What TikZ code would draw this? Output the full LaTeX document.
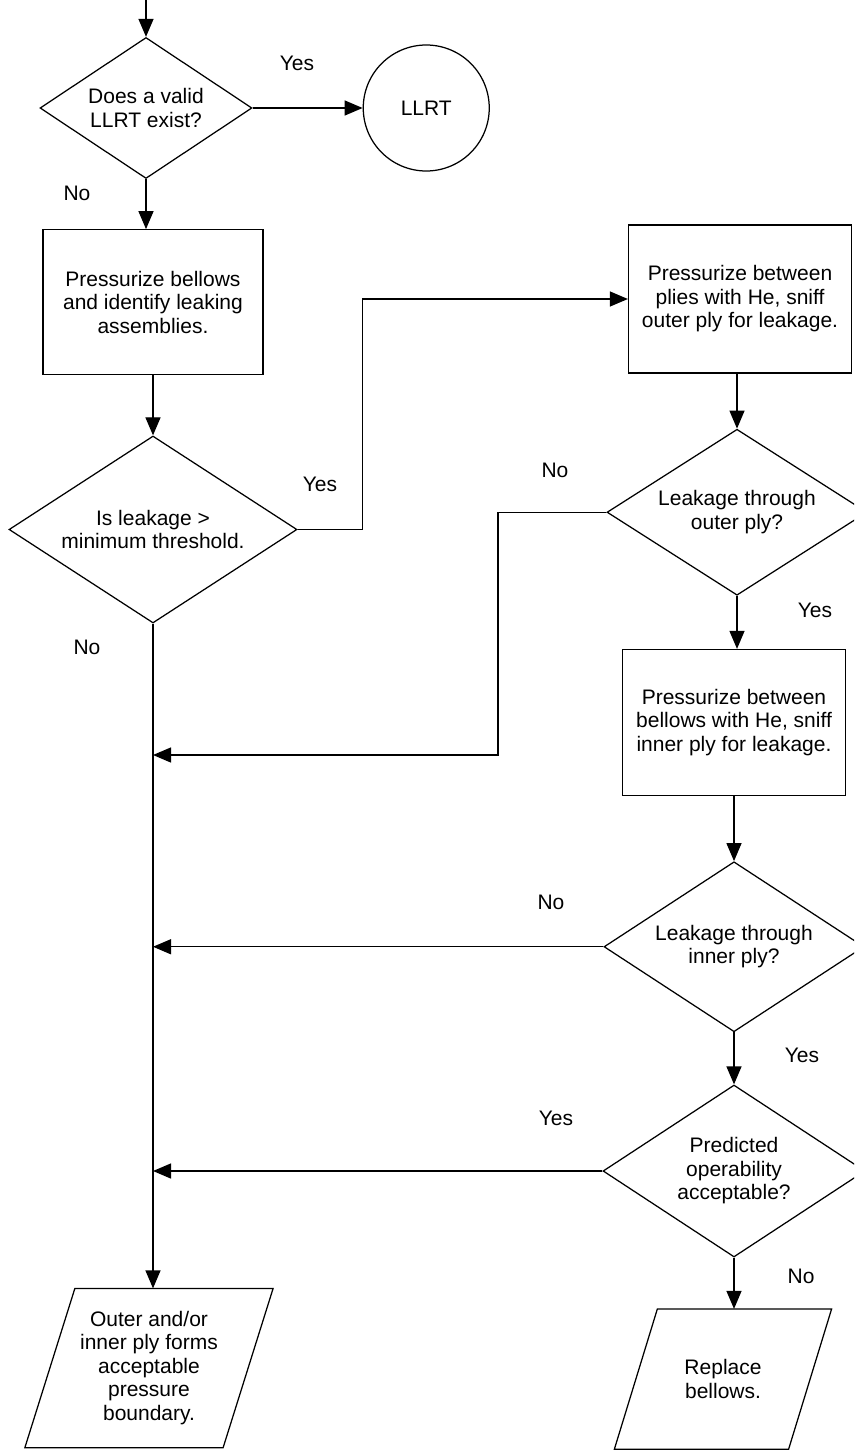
\documentclass[tikz,border=0pt]{standalone}
\usepackage{fontspec}
\setmainfont{Liberation Sans}
\usetikzlibrary{arrows.meta,positioning,shapes.geometric}

\begin{document}
\begin{tikzpicture}[x=1pt, y=-1pt, node distance=50pt,
    font=\fontsize{21}{23.5}\selectfont, line width=1.25pt,
    decision/.style={draw, diamond, aspect=1.5, inner sep=0pt, align=center},
    process/.style={draw, rectangle, align=center, minimum width=223pt, minimum height=146pt},
    terminal/.style={draw, circle, minimum size=126pt},
    io/.style={rectangle, inner sep=0pt, align=center},
    answer/.style={inner sep=0pt},
    arr/.style={-{Triangle[length=18pt, width=15pt]}}]

\useasboundingbox (0,0) rectangle (854,1450);
\clip (0,0) rectangle (854,1450);

% left column
\coordinate (start) at (146,0);
\node[decision, minimum width=212pt, minimum height=141pt] (valid) at (146,108) {Does a valid\\LLRT exist?};
\node[terminal, right=110pt of valid] (llrt) {LLRT};
\node[process, minimum width=220pt, minimum height=145pt, below=50pt of valid, xshift=7pt] (bellows) {Pressurize bellows\\and identify leaking\\assemblies.};
\node[decision, minimum width=288pt, minimum height=187pt, below=60pt of bellows] (threshold) {Is leakage >\\minimum threshold.};
\node[io, minimum width=247pt, minimum height=158pt] (boundary) at (149,1368) {Outer and/or\\inner ply forms\\acceptable\\pressure\\boundary.};

% right column
\node[process, minimum height=148pt] (plies) at (740,299) {Pressurize between\\plies with He, sniff\\outer ply for leakage.};
\node[decision, minimum width=260pt, minimum height=166pt, below=55pt of plies, xshift=-3pt] (outerply) {Leakage through\\outer ply?};
\node[process, below=53pt of outerply, xshift=-3pt] (heinner) {Pressurize between\\bellows with He, sniff\\inner ply for leakage.};
\node[decision, minimum width=260pt, minimum height=170pt, below=65pt of heinner] (innerply) {Leakage through\\inner ply?};
\node[decision, minimum width=262pt, minimum height=172pt, below=52pt of innerply] (operable) {Predicted\\operability\\acceptable?};
\node[io, minimum width=216pt, minimum height=139pt] (replace) at (723,1379) {Replace\\bellows.};

% slanted outlines of the two end boxes
\foreach \io/\slant in {boundary/50, replace/43}
  \draw (\io.south west) -- ([xshift=-\slant pt]\io.south east) -- (\io.north east) -- ([xshift=\slant pt]\io.north west) -- cycle;

% yes / no
\node[answer] (yesvalid) at (297,63) {Yes};
\node[answer] (novalid) at (77,193) {No};
\node[answer] (yesthreshold) at (320,484) {Yes};
\node[answer] (nothreshold) at (87,647) {No};
\node[answer] (noouter) at (555,470) {No};
\node[answer] (yesouter) at (815,610) {Yes};
\node[answer] (noinner) at (551,902) {No};
\node[answer] (yesinner) at (802,1055) {Yes};
\node[answer] (yesoperable) at (556,1118) {Yes};
\node[answer] (nooperable) at (801,1276) {No};

\coordinate (nobend) at (498,755);

\draw[arr] (start) -- (valid);
\draw[arr] (valid) -- (llrt);
\draw[arr] (valid.south) -- (valid.south |- bellows.north);
\draw[arr] (bellows) -- (threshold);
\draw[arr] (threshold.east) -- ++(65,0) |- (plies.west);
\draw[arr] (outerply.north |- plies.south) -- (outerply.north);
\draw[arr] (outerply.west) -| (nobend) -- (threshold.south |- nobend);
\draw[arr] (outerply.south) -- (outerply.south |- heinner.north);
\draw[arr] (heinner) -- (innerply);
\draw[arr] (innerply.west) -- (threshold.south |- innerply.west);
\draw[arr] (innerply) -- (operable);
\draw[arr] (operable.west) -- (threshold.south |- operable.west);
\draw[arr] (operable.south) -- (operable.south |- replace.north);
\draw[arr] (threshold.south) -- (threshold.south |- boundary.north);
\end{tikzpicture}
\end{document}
